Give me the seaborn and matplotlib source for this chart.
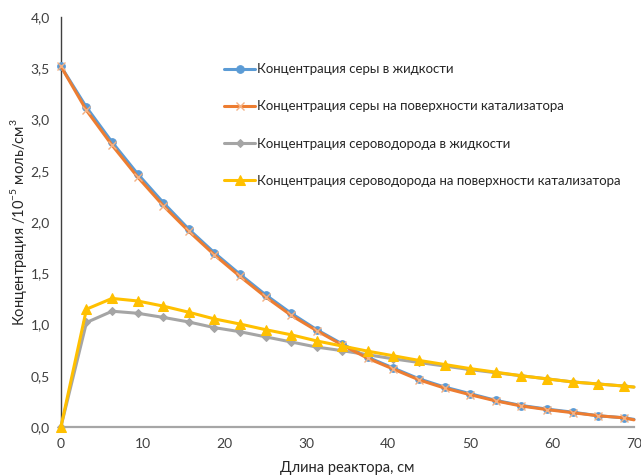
import numpy as np
import pandas as pd
import matplotlib
matplotlib.use("Agg")
import matplotlib.pyplot as plt
import seaborn as sns
from matplotlib.ticker import MultipleLocator, FuncFormatter

# длина реактора, см
x_cm = [0, 3.125, 6.25, 9.375, 12.5, 15.625, 18.75, 21.875, 25, 28.125, 31.25,
        34.375, 37.5, 40.625, 43.75, 46.875, 50, 53.125, 56.25, 59.375, 62.5,
        65.625, 68.75, 70]

# концентрации, 10^-5 моль/см3
sera_zhid = [3.52, 3.12, 2.78, 2.47, 2.19, 1.93, 1.70, 1.49, 1.29, 1.11, 0.95,
             0.81, 0.68, 0.575, 0.47, 0.39, 0.325, 0.26, 0.21, 0.175, 0.145,
             0.11, 0.09, 0.075]
sera_pov = [3.52, 3.09, 2.75, 2.44, 2.16, 1.91, 1.68, 1.47, 1.27, 1.09, 0.94,
            0.80, 0.67, 0.565, 0.46, 0.38, 0.315, 0.255, 0.205, 0.17, 0.14,
            0.11, 0.09, 0.07]
h2s_zhid = [0.0, 1.02, 1.13, 1.11, 1.07, 1.025, 0.97, 0.93, 0.88, 0.83, 0.78,
            0.745, 0.705, 0.665, 0.63, 0.595, 0.56, 0.53, 0.50, 0.47, 0.44,
            0.42, 0.40, 0.39]
h2s_pov = [0.0, 1.15, 1.255, 1.23, 1.18, 1.12, 1.055, 1.005, 0.95, 0.90, 0.84,
           0.79, 0.74, 0.695, 0.65, 0.61, 0.57, 0.535, 0.50, 0.47, 0.44,
           0.42, 0.40, 0.39]

labels = ["Концентрация серы в жидкости",
          "Концентрация серы на поверхности катализатора",
          "Концентрация сероводорода в жидкости",
          "Концентрация сероводорода на поверхности катализатора"]

sns.set_style("white")
plt.rcParams['font.family'] = ['Lato', 'DejaVu Sans']
plt.rcParams['mathtext.fontset'] = 'custom'
plt.rcParams['mathtext.rm'] = 'Lato'

fig = plt.figure(figsize=(6.41, 4.75), dpi=100)
ax = fig.add_axes([0.095, 0.101, 0.894, 0.863])

df = pd.DataFrame({"x": x_cm, "s1": sera_zhid, "s2": sera_pov,
                   "s3": h2s_zhid, "s4": h2s_pov})
mk = slice(0, 23)

sns.lineplot(data=df, x="x", y="s1", ax=ax, color="#5B9BD5", lw=2.2,
             marker="o", ms=5.5, mec="#5B9BD5", mfc="#5B9BD5", markevery=mk,
             label=labels[0], clip_on=False, zorder=3)
sns.lineplot(data=df, x="x", y="s2", ax=ax, color="#ED7D31", lw=2.2,
             marker="x", ms=6, mec="#F4B183", mew=1.0, markevery=mk,
             label=labels[1], clip_on=False, zorder=4)
sns.lineplot(data=df, x="x", y="s3", ax=ax, color="#A5A5A5", lw=2.2,
             marker="D", ms=4.5, mec="#A5A5A5", mfc="#A5A5A5", markevery=mk,
             label=labels[2], clip_on=False, zorder=3)
sns.lineplot(data=df, x="x", y="s4", ax=ax, color="#FFC000", lw=2.2,
             marker="^", ms=6.5, mec="#FFC000", mfc="#FFC000", markevery=mk,
             label=labels[3], clip_on=False, zorder=4)

ax.set_xlim(0, 70)
ax.set_ylim(0, 4.0)
ax.xaxis.set_major_locator(MultipleLocator(10))
ax.xaxis.set_minor_locator(MultipleLocator(2))
ax.yaxis.set_major_locator(MultipleLocator(0.5))
ax.yaxis.set_minor_locator(MultipleLocator(0.1))
ax.yaxis.set_major_formatter(FuncFormatter(lambda v, p: f"{v:.1f}".replace(".", ",")))
ax.xaxis.set_major_formatter(FuncFormatter(lambda v, p: f"{v:.0f}"))

for s in ["top", "right"]:
    ax.spines[s].set_visible(False)
ax.spines["left"].set_color("#404040")
ax.spines["left"].set_linewidth(1.0)
ax.spines["bottom"].set_color("#A6A6A6")
ax.spines["bottom"].set_linewidth(1.6)
ax.tick_params(which="both", direction="inout", colors="#404040", width=1.0,
               labelsize=10, labelcolor="#404040")
ax.tick_params(which="major", length=8, pad=4)
ax.tick_params(which="minor", length=8)

ax.set_xlabel("Длина реактора, см", fontsize=10.5, color="#262626", labelpad=8)
ax.set_ylabel("Концентрация /10$^{-5}$ моль/см$^{3}$", fontsize=10.5,
              color="#262626", labelpad=1)

leg = ax.legend(loc="upper left", bbox_to_anchor=(0.275, 0.90), frameon=False,
                fontsize=9.5, labelspacing=1.9, handlelength=2.4,
                handletextpad=0.1, borderaxespad=0)
for t in leg.get_texts():
    t.set_color("#262626")

fig.savefig("out.png", dpi=100)
